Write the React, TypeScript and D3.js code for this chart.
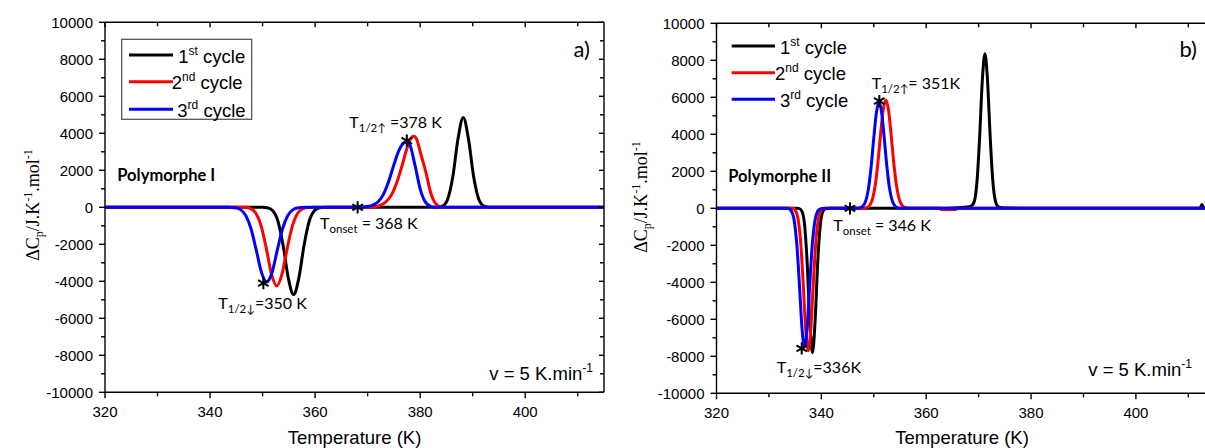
import React from 'react';
import * as d3 from 'd3';

type Pt = [number, number];

// ---------- data ----------
const seriesNames = ['1st cycle', '2nd cycle', '3rd cycle'];
const legendNums = ['1', '2', '3'];
const legendSups = ['st', 'nd', 'rd'];
const seriesColors = ['#000000', '#ff0000', '#0000ff'];

const yTickValues = [-10000, -8000, -6000, -4000, -2000, 0, 2000, 4000, 6000, 8000, 10000];
const yMinorValues = [-9000, -7000, -5000, -3000, -1000, 1000, 3000, 5000, 7000, 9000];
const xTickValues = [320, 340, 360, 380, 400];
const xMinorValues = [330, 350, 370, 390, 410];

// Panel a) Polymorphe I
const aCycle1: Pt[] = [
  [320, 0], [350, 0], [350.9, -26], [351.9, -170], [352.9, -730], [353.9, -2050], [354.9, -3830],
  [355.9, -4720], [356.9, -3830], [357.9, -2050], [358.9, -730], [359.9, -170], [360.9, -26], [362, 0],
  [383.2, 0], [384.2, 60], [385.2, 410], [386.2, 1620], [387.2, 3690], [388.2, 4850], [389.2, 3690],
  [390.2, 1620], [391.2, 410], [392.2, 60], [393.2, 0], [415, 0],
];
const aCycle2: Pt[] = [
  [320, 0], [346.7, 0], [347.7, -70], [348.7, -310], [349.7, -980], [350.7, -2210], [351.7, -3610],
  [352.7, -4250], [353.7, -3610], [354.7, -2210], [355.7, -980], [356.7, -310], [357.7, -70], [358.7, -12],
  [360, 0], [370, 0], [371.5, 40], [372.5, 120], [373.5, 300], [374.5, 650], [375.5, 1300], [376.5, 2200],
  [377.5, 3200], [378.3, 3750], [378.8, 3840], [379.3, 3700], [380.2, 2800], [381, 2000], [382, 800],
  [383, 180], [384, 20], [385, 0], [415, 0],
];
const aCycle3: Pt[] = [
  [320, 0], [343.5, 0], [344.8, -27], [345.8, -126], [346.8, -440], [347.8, -1160], [348.8, -2320],
  [349.8, -3520], [350.8, -4040], [351.8, -3520], [352.8, -2320], [353.8, -1160], [354.8, -440],
  [355.8, -126], [356.8, -27], [358, 0], [368.5, 0], [370, 40], [371, 120], [372, 300], [373, 700],
  [374, 1400], [375, 2300], [376, 3100], [377, 3500], [377.5, 3530], [378, 3400], [379, 2300], [380, 1000],
  [381, 280], [382, 50], [383, 0], [415, 0],
];
const aStars: Pt[] = [[350.15, -4100], [368.1, 0], [377.46, 3600]];

// Panel b) Polymorphe II
const bCycle1: Pt[] = [
  [320, 0], [335.3, 0], [335.8, -19], [336.3, -165], [336.8, -890], [337.3, -2970], [337.8, -6130],
  [338.3, -7800], [338.8, -6130], [339.3, -2970], [339.8, -890], [340.3, -165], [340.8, -19], [341.5, 0],
  [362, 0], [366, 30], [368.2, 90], [368.7, 150], [369.2, 395], [369.7, 1500], [370.2, 3890], [370.7, 6900],
  [371.2, 8350], [371.7, 6900], [372.2, 3890], [372.7, 1500], [373.2, 395], [373.7, 100], [374.5, 30],
  [378, 0], [412.2, 0], [412.6, 200], [413, 0], [414, 0],
];
const bCycle2: Pt[] = [
  [320, 0], [334.5, 0], [335, -100], [335.5, -480], [336, -1630], [336.5, -3870], [337, -6480],
  [337.5, -7700], [338, -6480], [338.5, -3870], [339, -1630], [339.5, -480], [340, -100], [340.5, -15],
  [341.5, 0], [348, 0], [348.8, 57], [349.3, 195], [349.8, 550], [350.3, 1290], [350.8, 2500], [351.3, 4010],
  [351.8, 5330], [352.3, 5860], [352.8, 5330], [353.3, 4010], [353.8, 2500], [354.3, 1290], [354.8, 550],
  [355.3, 195], [355.8, 57], [357, 0], [362.5, 0], [363, -70], [365.5, -70], [366, 0], [414, 0],
];
const bCycle3: Pt[] = [
  [320, 0], [333.5, 0], [334.3, -160], [334.8, -630], [335.3, -1870], [335.8, -4040], [336.3, -6430],
  [336.8, -7500], [337.3, -6430], [337.8, -4040], [338.3, -1870], [338.8, -630], [339.3, -160],
  [339.8, -30], [340.5, 0], [347, 0], [347.5, 35], [348, 140], [348.5, 430], [349, 1090], [349.5, 2260],
  [350, 3790], [350.5, 5170], [351, 5730], [351.5, 5170], [352, 3790], [352.5, 2260], [353, 1090],
  [353.5, 430], [354, 140], [354.5, 35], [355.5, 0], [414, 0],
];
const bStars: Pt[] = [[336.25, -7570], [345.46, 0], [351.05, 5800]];

// ---------- layout ----------
const SANS = '"Liberation Sans", Arial, sans-serif';
const CAL = 'Lato, "Open Sans", sans-serif';
const SERIF = '"Liberation Serif", "Times New Roman", serif';

type Ann = { x: number; y: number; main: string; sub: string; rest: string };

type PanelCfg = {
  id: string;
  left: number; right: number; top: number; bottom: number;
  xDomain: [number, number];
  series: Pt[][];
  stars: Pt[];
  anns: Ann[];
  poly: { x: number; y: number; text: string };
  letter: { x: number; y: number; text: string };
  speed: { x: number; y: number };
  legend: { box: boolean; bx: number; by: number; bw: number; bh: number; lx0: number; lx1: number; rows: number[]; textX: number[] };
  yTitle: { x: number; y: number };
  xTitle: { x: number; y: number };
  drawRight: boolean;
};

const panels: PanelCfg[] = [
  {
    id: 'a', left: 105, right: 604, top: 22.3, bottom: 392.3, xDomain: [320, 415],
    series: [aCycle1, aCycle2, aCycle3], stars: aStars,
    anns: [
      { x: 218.3, y: 309.3, main: 'T', sub: '1/2↓', rest: '=350 K' },
      { x: 320, y: 229.3, main: 'T', sub: 'onset', rest: ' = 368 K' },
      { x: 349.3, y: 127.7, main: 'T', sub: '1/2↑', rest: ' =378 K' },
    ],
    poly: { x: 117.3, y: 181, text: 'Polymorphe I' },
    letter: { x: 590, y: 57, text: 'a)' },
    speed: { x: 593, y: 380 },
    legend: { box: true, bx: 121.7, by: 39.3, bw: 130, bh: 80, lx0: 129, lx1: 173, rows: [55, 81.7, 109.3], textX: [178.3, 171.7, 177.3] },
    yTitle: { x: 38.5, y: 205 },
    xTitle: { x: 354.5, y: 443.5 },
    drawRight: true,
  },
  {
    id: 'b', left: 716.5, right: 1209.3, top: 23.3, bottom: 393.3, xDomain: [320, 414],
    series: [bCycle1, bCycle2, bCycle3], stars: bStars,
    anns: [
      { x: 776.7, y: 373.3, main: 'T', sub: '1/2↓', rest: '=336K' },
      { x: 833.3, y: 230.7, main: 'T', sub: 'onset', rest: ' = 346 K' },
      { x: 871.7, y: 89.3, main: 'T', sub: '1/2↑', rest: '= 351K' },
    ],
    poly: { x: 728.3, y: 181.7, text: 'Polymorphe II' },
    letter: { x: 1197, y: 56.5, text: 'b)' },
    speed: { x: 1192, y: 376 },
    legend: { box: false, bx: 0, by: 0, bw: 0, bh: 0, lx0: 731.7, lx1: 775, rows: [46, 72.7, 99.3], textX: [780, 775, 780] },
    yTitle: { x: 647, y: 197 },
    xTitle: { x: 962, y: 443.5 },
    drawRight: false,
  },
];

function Panel({ cfg }: { cfg: PanelCfg }) {
  const x = d3.scaleLinear().domain(cfg.xDomain).range([cfg.left, cfg.right]);
  const y = d3.scaleLinear().domain([-10000, 10000]).range([cfg.bottom, cfg.top]);
  const line = d3.line<Pt>().x((d) => x(d[0])).y((d) => y(d[1])).curve(d3.curveMonotoneX);
  const star = d3.symbol().type(d3.symbolAsterisk).size(105)();
  const clipId = `clip-${cfg.id}`;
  const L = cfg.left, R = cfg.right, T = cfg.top, B = cfg.bottom;
  const ax = { stroke: '#000', strokeWidth: 1.4 };

  return (
    <g>
      <defs>
        <clipPath id={clipId}>
          <rect x={L} y={T} width={R - L} height={B - T} />
        </clipPath>
      </defs>

      <g clipPath={`url(#${clipId})`}>
        {cfg.series.map((s, i) => (
          <path key={i} d={line(s) || ''} fill="none" stroke={seriesColors[i]} strokeWidth={3} strokeLinejoin="round" />
        ))}
      </g>

      <line x1={L} x2={L} y1={T} y2={B} {...ax} />
      <line x1={L} x2={R} y1={B} y2={B} {...ax} />
      <line x1={L} x2={R} y1={T} y2={T} {...ax} />
      {cfg.drawRight && <line x1={R} x2={R} y1={T} y2={B} {...ax} />}

      {yTickValues.map((v) => (
        <g key={`ym${v}`}>
          <line x1={L - 6} x2={L} y1={y(v)} y2={y(v)} {...ax} />
          {cfg.drawRight && <line x1={R - 5} x2={R} y1={y(v)} y2={y(v)} {...ax} />}
          <text x={L - 12} y={y(v) + 5.3} textAnchor="end" fontFamily={SANS} fontSize={15} fill="#000">{v}</text>
        </g>
      ))}
      {yMinorValues.map((v) => (
        <g key={`yn${v}`}>
          <line x1={L - 4} x2={L} y1={y(v)} y2={y(v)} {...ax} />
          {cfg.drawRight && <line x1={R - 4} x2={R} y1={y(v)} y2={y(v)} {...ax} />}
        </g>
      ))}

      {xTickValues.map((v) => (
        <g key={`xm${v}`}>
          <line x1={x(v)} x2={x(v)} y1={B} y2={B + 6} {...ax} />
          <line x1={x(v)} x2={x(v)} y1={T} y2={T + 5} {...ax} />
          <text x={x(v)} y={B + 24.5} textAnchor="middle" fontFamily={SANS} fontSize={15} fill="#000">{v}</text>
        </g>
      ))}
      {xMinorValues.map((v) => (
        <g key={`xn${v}`}>
          <line x1={x(v)} x2={x(v)} y1={B} y2={B + 4} {...ax} />
          <line x1={x(v)} x2={x(v)} y1={T} y2={T + 4} {...ax} />
        </g>
      ))}

      {cfg.stars.map((p, i) => (
        <path key={i} d={star || ''} transform={`translate(${x(p[0])},${y(p[1])})`} fill="none" stroke="#000" strokeWidth={2} />
      ))}

      {cfg.anns.map((a, i) => (
        <text key={i} x={a.x} y={a.y} fontFamily={CAL} fontSize={16} fill="#000">
          <tspan>{a.main}</tspan>
          <tspan fontSize={11.5} dy={4}>{a.sub}</tspan>
          <tspan dy={-4}>{a.rest}</tspan>
        </text>
      ))}

      <text x={cfg.poly.x} y={cfg.poly.y} fontFamily={CAL} fontWeight="bold" fontSize={16.5} fill="#000">{cfg.poly.text}</text>
      <text x={cfg.letter.x} y={cfg.letter.y} textAnchor="end" fontFamily={CAL} fontSize={22} fill="#000">{cfg.letter.text}</text>

      <text x={cfg.speed.x} y={cfg.speed.y} textAnchor="end" fontFamily={SANS} fontSize={18.5} fill="#000">
        <tspan>v = 5 K.min</tspan>
        <tspan fontSize={12} dy={-8}>-1</tspan>
      </text>

      {cfg.legend.box && (
        <rect x={cfg.legend.bx} y={cfg.legend.by} width={cfg.legend.bw} height={cfg.legend.bh} fill="#fff" stroke="#555" strokeWidth={1.3} />
      )}
      {seriesNames.map((name, i) => (
        <g key={name}>
          <line x1={cfg.legend.lx0} x2={cfg.legend.lx1} y1={cfg.legend.rows[i]} y2={cfg.legend.rows[i]} stroke={seriesColors[i]} strokeWidth={3} />
          <text x={cfg.legend.textX[i]} y={cfg.legend.rows[i] + 7.5} fontFamily={SANS} fontSize={18.5} fill="#000">
            <tspan>{legendNums[i]}</tspan>
            <tspan fontSize={12} dy={-8}>{legendSups[i]}</tspan>
            <tspan dy={8}>{' cycle'}</tspan>
          </text>
        </g>
      ))}

      <text transform={`translate(${cfg.yTitle.x},${cfg.yTitle.y}) rotate(-90)`} textAnchor="middle" fontFamily={SERIF} fontSize={18} fill="#000">
        <tspan>ΔC</tspan>
        <tspan fontSize={12} dy={4}>p</tspan>
        <tspan dy={-4}>/J.K</tspan>
        <tspan fontSize={12} dy={-7}>-1</tspan>
        <tspan dy={7}>.mol</tspan>
        <tspan fontSize={12} dy={-7}>-1</tspan>
      </text>
      <text x={cfg.xTitle.x} y={cfg.xTitle.y} textAnchor="middle" fontFamily={SANS} fontSize={18.5} fill="#000">Temperature (K)</text>
    </g>
  );
}

export default function App() {
  return (
    <svg width={1205} height={448} viewBox="0 0 1205 448" style={{ position: 'absolute', left: 0, top: 0, background: '#fff' }}>
      <rect x={0} y={0} width={1205} height={448} fill="#fff" />
      {panels.map((p) => (
        <Panel key={p.id} cfg={p} />
      ))}
    </svg>
  );
}
